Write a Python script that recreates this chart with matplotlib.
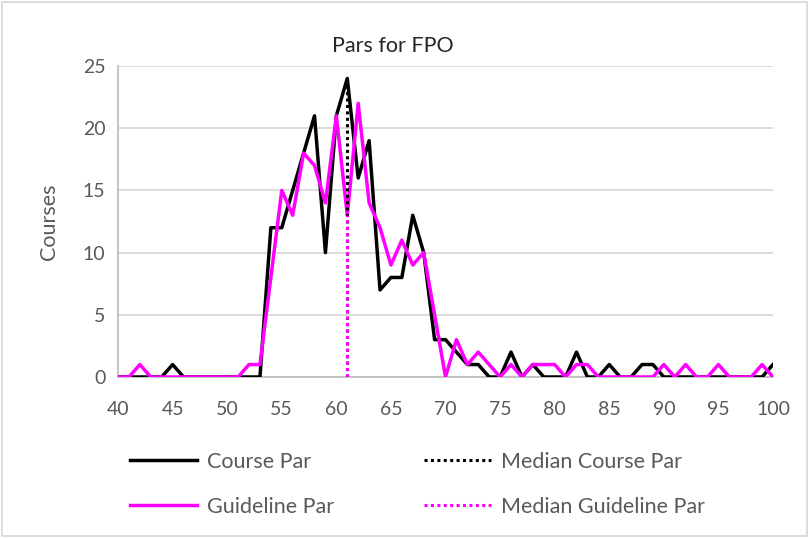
import numpy as np
import matplotlib
matplotlib.use("Agg")
import matplotlib.pyplot as plt
from matplotlib.patches import Rectangle

# par values on the x axis
pars = list(range(40, 101))

# number of courses per par
course_par = [0, 0, 0, 0, 0, 1, 0, 0, 0, 0,
              0, 0, 0, 0, 12, 12, 15, 18, 21, 10,
              21, 24, 16, 19, 7, 8, 8, 13, 10, 3,
              3, 2, 1, 1, 0, 0, 2, 0, 1, 0,
              0, 0, 2, 0, 0, 1, 0, 0, 1, 1,
              0, 0, 0, 0, 0, 0, 0, 0, 0, 0,
              1]
guideline_par = [0, 0, 1, 0, 0, 0, 0, 0, 0, 0,
                 0, 0, 1, 1, 8, 15, 13, 18, 17, 14,
                 21, 13, 22, 14, 12, 9, 11, 9, 10, 5,
                 0, 3, 1, 2, 1, 0, 1, 0, 1, 1,
                 1, 0, 1, 1, 0, 0, 0, 0, 0, 0,
                 1, 0, 1, 0, 0, 1, 0, 0, 0, 1,
                 0]

median_course = 61
median_guideline = 61

grey_text = "#595959"
plt.rcParams["font.family"] = ["Lato", "DejaVu Sans"]

fig = plt.figure(figsize=(8.09, 5.38), dpi=100)
ax = fig.add_axes([0.1459, 0.2993, 0.8096, 0.578])

ax.plot(pars, course_par, color="black", lw=2.5, label="Course Par", zorder=3)
ax.plot(pars, guideline_par, color="#ff00ff", lw=2.5, label="Guideline Par", zorder=4)

# median markers run from the axis up to the curve
mc_top = course_par[pars.index(median_course)]
mg_top = guideline_par[pars.index(median_guideline)]
ax.plot([median_course, median_course], [0, mc_top], color="black", lw=2.2,
        linestyle=(0, (1, 1.1)), label="Median Course Par", zorder=5)
ax.plot([median_guideline, median_guideline], [0, mg_top], color="#ff00ff", lw=2.2,
        linestyle=(0, (1, 1.1)), label="Median Guideline Par", zorder=6)

ax.set_xlim(40, 100)
ax.set_ylim(0, 25)
ax.set_xticks(range(40, 101, 5))
ax.set_yticks(range(0, 26, 5))
ax.yaxis.grid(True, color="#d9d9d9", lw=1.3)
ax.set_axisbelow(True)
ax.tick_params(length=0, labelsize=14, labelcolor=grey_text)
ax.tick_params(axis="x", pad=17)
ax.tick_params(axis="y", pad=9)
for side in ["top", "right"]:
    ax.spines[side].set_visible(False)
for side in ["left", "bottom"]:
    ax.spines[side].set_color("#bfbfbf")
    ax.spines[side].set_linewidth(1.3)

ax.set_ylabel("Courses", fontsize=15.5, color=grey_text, labelpad=17)
fig.text(0.486, 0.915, "Pars for FPO", fontsize=15.5, color="#262626",
         ha="center", va="center")

handles, labels = ax.get_legend_handles_labels()
fig.legend(handles, labels, ncol=2, loc="center", bbox_to_anchor=(0.516, 0.1),
           frameon=False, fontsize=15.5, labelcolor=grey_text,
           handlelength=3.1, handletextpad=0.45, columnspacing=4.2, labelspacing=1.15)

fig.patches.append(Rectangle((0.003, 0.003), 0.994, 0.994, transform=fig.transFigure,
                             fill=False, edgecolor="#d9d9d9", lw=1.3))

fig.savefig("out.png", dpi=100)
